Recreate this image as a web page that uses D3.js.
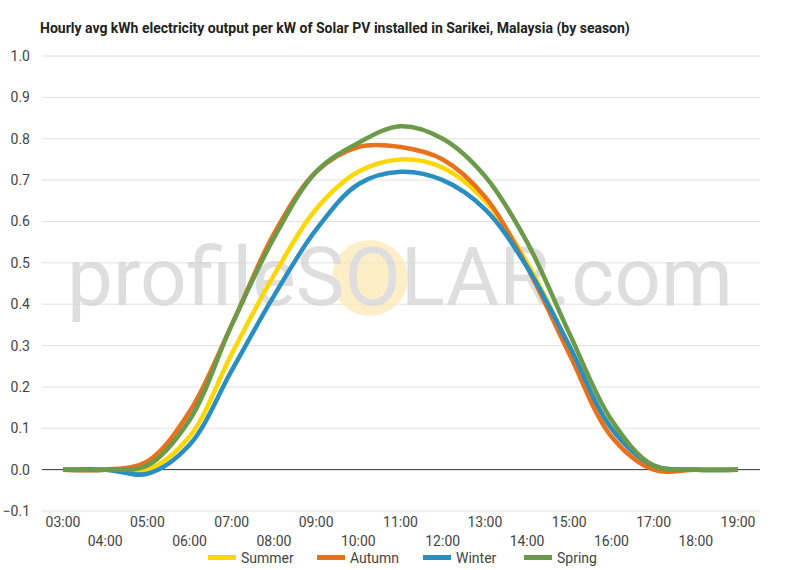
<!DOCTYPE html>
<html>
<head>
<meta charset="UTF-8">
<script src="https://cdn.jsdelivr.net/npm/d3@7"></script>
<style>
  body { margin: 0; background: #fff; font-family: Roboto, sans-serif; }
</style>
</head>
<body>
<svg id="chart" width="800" height="570"></svg>
<script>
const hours = ["03:00","04:00","05:00","06:00","07:00","08:00","09:00","10:00","11:00","12:00","13:00","14:00","15:00","16:00","17:00","18:00","19:00"];
const summer = [0, 0, 0.00, 0.08, 0.28, 0.47, 0.63, 0.72, 0.75, 0.73, 0.65, 0.50, 0.30, 0.10, 0.01, 0, 0];
const autumn = [0, 0, 0.02, 0.14, 0.35, 0.57, 0.72, 0.78, 0.78, 0.75, 0.66, 0.49, 0.28, 0.08, 0.00, 0, 0];
const winter = [0, 0, -0.01, 0.06, 0.24, 0.42, 0.58, 0.69, 0.72, 0.70, 0.63, 0.49, 0.30, 0.10, 0.01, 0, 0];
const spring = [0, 0, 0.01, 0.12, 0.35, 0.56, 0.72, 0.79, 0.83, 0.80, 0.71, 0.55, 0.33, 0.12, 0.01, 0, 0];
const yTicks = [-0.1, 0, 0.1, 0.2, 0.3, 0.4, 0.5, 0.6, 0.7, 0.8, 0.9, 1.0];

const series = [
  { name: "Summer", values: summer, color: "#FFD700" },
  { name: "Autumn", values: autumn, color: "#E8711C" },
  { name: "Winter", values: winter, color: "#2A8FC0" },
  { name: "Spring", values: spring, color: "#6C9A4B" }
];

const svg = d3.select("#chart");
const plotLeft = 42, plotRight = 760, plotTop = 56, plotBottom = 511;

const x = d3.scalePoint().domain(hours).range([63, 738]);
const y = d3.scaleLinear().domain([-0.1, 1.0]).range([plotBottom, plotTop]);

svg.append("text").attr("x", 40).attr("y", 33)
  .attr("font-size", 14).attr("font-weight", "bold").attr("fill", "#222")
  .text("Hourly avg kWh electricity output per kW of Solar PV installed in Sarikei, Malaysia (by season)");

// grid
svg.selectAll(".grid").data(yTicks).enter().append("line")
  .attr("x1", plotLeft).attr("x2", plotRight)
  .attr("y1", d => y(d)).attr("y2", d => y(d))
  .attr("stroke", d => d === 0 ? "#333" : "#e0e0e0").attr("stroke-width", 1);

svg.selectAll(".ylab").data(yTicks).enter().append("text")
  .attr("x", 30).attr("y", d => y(d) + 5).attr("text-anchor", "end")
  .attr("font-size", 14).attr("fill", "#444")
  .text(d => d3.format(".1f")(d));

svg.selectAll(".xlab").data(hours).enter().append("text")
  .attr("x", d => x(d)).attr("y", (d, i) => i % 2 === 0 ? 527 : 546)
  .attr("text-anchor", "middle").attr("font-size", 14).attr("fill", "#444")
  .text(d => d);

// watermark
const wm = svg.append("g").attr("opacity", 0.75);
wm.append("circle").attr("cx", 370).attr("cy", 278).attr("r", 38).attr("fill", "#fbe9b5");
wm.append("text").attr("x", 400).attr("y", 305).attr("text-anchor", "middle")
  .attr("font-size", 82).attr("font-family", "Roboto, sans-serif").attr("fill", "#d4d4d4")
  .text("profileSOLAR.com");

const line = d3.line()
  .x((d, i) => x(hours[i]))
  .y(d => y(d))
  .curve(d3.curveCatmullRom.alpha(0.5));

series.forEach(s => {
  svg.append("path").datum(s.values)
    .attr("d", line).attr("fill", "none")
    .attr("stroke", s.color).attr("stroke-width", 4.5)
    .attr("stroke-linejoin", "round");
});

// legend
const legendX = [208, 317, 423, 524];
series.forEach((s, i) => {
  svg.append("rect").attr("x", legendX[i]).attr("y", 555).attr("width", 28).attr("height", 5).attr("fill", s.color);
  svg.append("text").attr("x", legendX[i] + 33).attr("y", 563)
    .attr("font-size", 14).attr("fill", "#444").text(s.name);
});
</script>
</body>
</html>
